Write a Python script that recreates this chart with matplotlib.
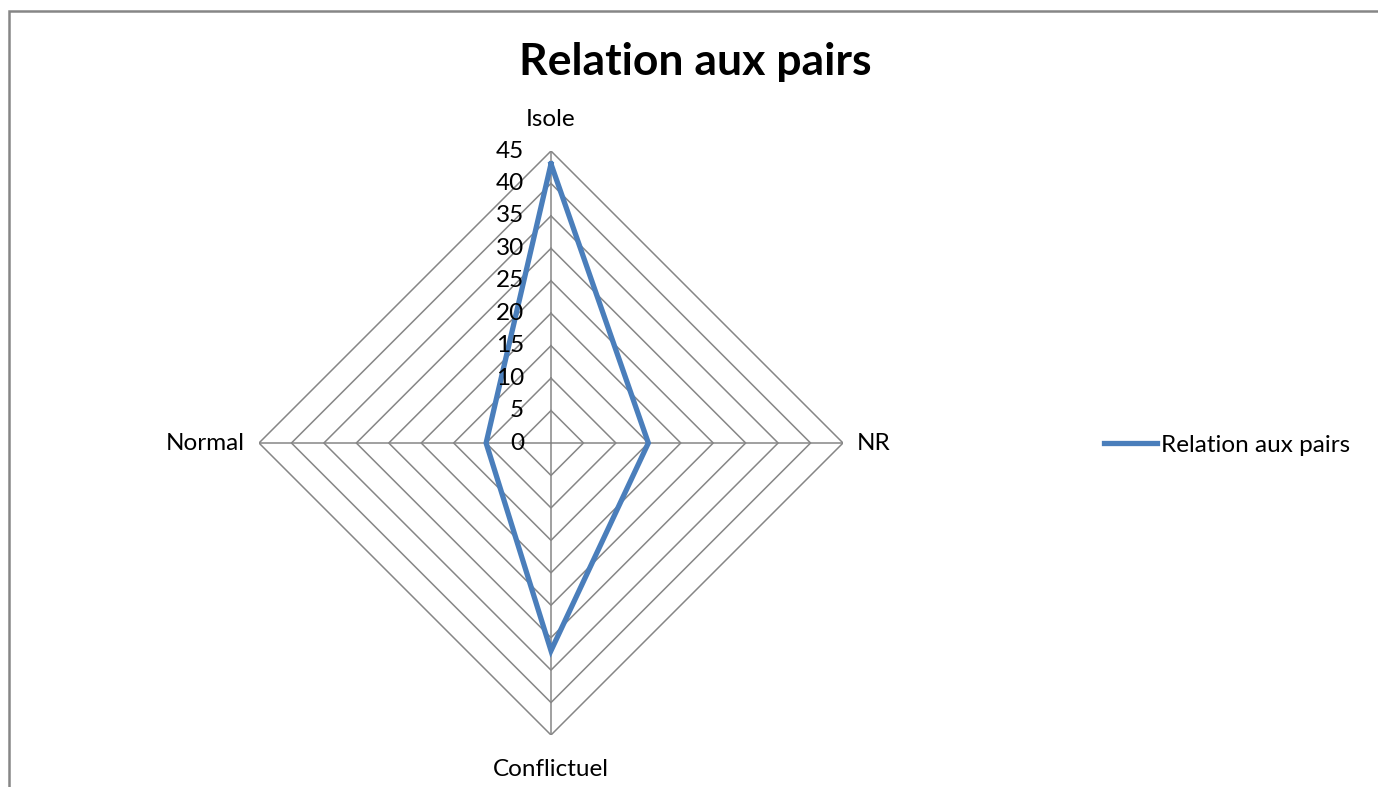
import numpy as np
import matplotlib

matplotlib.use("Agg")
import matplotlib.pyplot as plt
from matplotlib.patches import Rectangle

plt.rcParams["font.family"] = ["Lato", "DejaVu Sans"]

CATEGORIES = ["Isole", "NR", "Conflictuel", "Normal"]
VALUES = [43, 15, 32, 10]
SERIES_NAME = "Relation aux pairs"
RINGS = [5, 10, 15, 20, 25, 30, 35, 40, 45]
TICKS = [0, 5, 10, 15, 20, 25, 30, 35, 40, 45]
R_MAX = 45

LINE_COLOR = "#4a7ebb"
GRID_COLOR = "#868686"
LABEL_SIZE = 17.5

W, H = 1378, 787
fig = plt.figure(figsize=(W / 100, H / 100), dpi=100)

# outer chart border (left and top visible, rest falls off the picture)
fig.patches.append(
    Rectangle((8.5 / W, -0.1), 2.0, 1 - 10.5 / H + 0.1, transform=fig.transFigure,
              fill=False, edgecolor=GRID_COLOR, linewidth=1.8)
)

cx, cy, rad = 551, 443, 292
ax = fig.add_axes([(cx - rad) / W, (H - cy - rad) / H, 2 * rad / W, 2 * rad / H],
                  projection="polar")
ax.set_theta_zero_location("N")
ax.set_theta_direction(-1)
ax.set_ylim(0, R_MAX)
ax.grid(False)
ax.spines["polar"].set_visible(False)
ax.set_xticks([])
ax.set_yticks([])
ax.patch.set_alpha(0)

angles = np.arange(len(CATEGORIES)) * 2 * np.pi / len(CATEGORIES)
closed = np.append(angles, angles[0])

# diamond rings and spokes
for r in RINGS:
    ax.plot(closed, [r] * len(closed), color=GRID_COLOR, linewidth=1.1, zorder=1)
for a in angles:
    ax.plot([a, a], [0, R_MAX], color=GRID_COLOR, linewidth=1.1, zorder=1)

vals = VALUES + VALUES[:1]
ax.plot(closed, vals, color=LINE_COLOR, linewidth=3.8, solid_joinstyle="miter",
        label=SERIES_NAME, zorder=3)

# value labels along the vertical axis
for t in TICKS:
    ax.annotate(str(t), xy=(0, t), xytext=(-27, 0), textcoords="offset pixels",
                ha="right", va="center", fontsize=LABEL_SIZE, color="#000000")

# category labels
offsets = [(0, 31), (14, 0), (0, -34), (-14, 0)]
aligns = [("center", "center"), ("left", "center"), ("center", "center"), ("right", "center")]
for a, name, off, (ha, va) in zip(angles, CATEGORIES, offsets, aligns):
    ax.annotate(name, xy=(a, R_MAX), xytext=off, textcoords="offset pixels",
                ha=ha, va=va, fontsize=LABEL_SIZE, color="#000000", annotation_clip=False)

fig.text(695 / W, 1 - 62 / H, "Relation aux pairs", ha="center", va="center",
         fontsize=32, fontweight="bold", color="#000000")

fig.legend(loc="center left", bbox_to_anchor=(1104 / W, 1 - 445 / H), frameon=False,
           fontsize=LABEL_SIZE, handlelength=2.2, handletextpad=0.15, borderpad=0,
           borderaxespad=0)

fig.savefig("out.png", dpi=100)
